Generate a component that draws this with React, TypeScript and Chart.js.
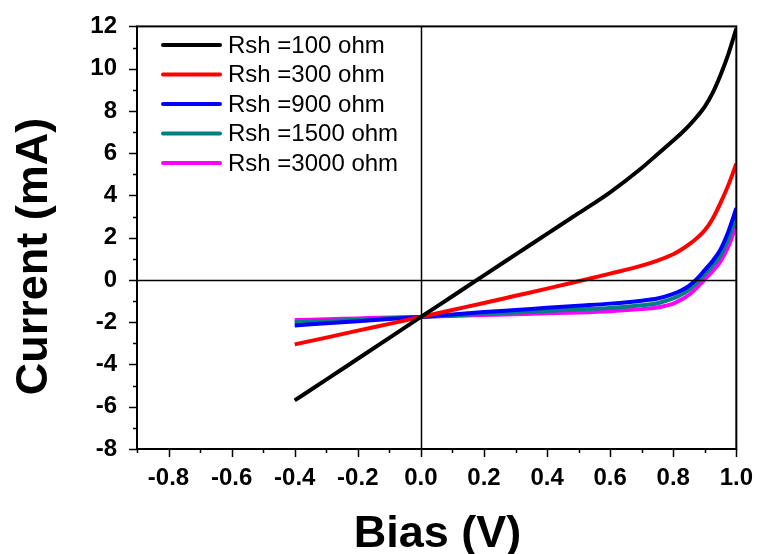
import React, { useEffect, useRef } from 'react';
import { Chart, registerables } from 'chart.js';

Chart.register(...registerables);

// ---- data ----
const bias = [-0.4, -0.3, -0.2, -0.1, 0, 0.1, 0.2, 0.3, 0.4, 0.5, 0.6, 0.7, 0.75, 0.8, 0.825, 0.85, 0.875, 0.9, 0.925, 0.95, 0.975, 1.0];
const rsh100 = [-5.7, -4.72, -3.73, -2.74, -1.75, -0.77, 0.22, 1.2, 2.18, 3.16, 4.15, 5.3, 5.95, 6.6, 6.93, 7.3, 7.72, 8.2, 8.85, 9.7, 10.7, 11.9];
const rsh300 = [-3.05, -2.73, -2.4, -2.08, -1.75, -1.42, -1.09, -0.75, -0.41, -0.06, 0.3, 0.68, 0.92, 1.22, 1.43, 1.68, 1.98, 2.35, 2.9, 3.65, 4.5, 5.5];
const rsh900 = [-2.15, -2.05, -1.95, -1.85, -1.75, -1.63, -1.52, -1.42, -1.32, -1.22, -1.12, -0.98, -0.88, -0.66, -0.5, -0.28, 0.05, 0.47, 0.9, 1.45, 2.3, 3.4];
const rsh1500 = [-2.0, -1.94, -1.88, -1.81, -1.75, -1.68, -1.6, -1.54, -1.47, -1.4, -1.33, -1.2, -1.1, -0.87, -0.7, -0.46, -0.13, 0.27, 0.68, 1.15, 1.95, 3.0];
const rsh3000 = [-1.9, -1.86, -1.82, -1.78, -1.75, -1.7, -1.66, -1.62, -1.58, -1.54, -1.48, -1.38, -1.3, -1.12, -0.94, -0.7, -0.36, 0.03, 0.42, 0.88, 1.6, 2.6];

const seriesLabels = ['Rsh =100 ohm', 'Rsh =300 ohm', 'Rsh =900 ohm', 'Rsh =1500 ohm', 'Rsh =3000 ohm'];
const seriesColors = ['#000000', '#ff0000', '#0000ff', '#008080', '#ff00ff'];
const seriesValues = [rsh100, rsh300, rsh900, rsh1500, rsh3000];

const xTitle = 'Bias (V)';
const yTitle = 'Current (mA)';
const FONT = 'Arial, "Liberation Sans", sans-serif';

const framePlugin = {
  id: 'frame',
  afterDatasetsDraw(chart: any) {
    const { ctx, chartArea } = chart;
    const { left, right, top, bottom } = chartArea;
    const xs = chart.scales.x;
    const ys = chart.scales.y;
    ctx.save();
    ctx.strokeStyle = '#000';
    ctx.lineWidth = 1.5;
    const x0 = Math.round(xs.getPixelForValue(0)) + 0.5;
    const y0 = Math.round(ys.getPixelForValue(0)) + 0.5;
    ctx.beginPath();
    ctx.moveTo(x0, top);
    ctx.lineTo(x0, bottom);
    ctx.moveTo(left, y0);
    ctx.lineTo(right, y0);
    ctx.stroke();
    ctx.restore();
  },
  afterDraw(chart: any) {
    const { ctx, chartArea } = chart;
    const { left, right, top, bottom } = chartArea;
    const xs = chart.scales.x;
    const ys = chart.scales.y;
    ctx.save();
    ctx.strokeStyle = '#000';
    ctx.lineWidth = 2;
    ctx.strokeRect(left, top, right - left, bottom - top);
    ctx.lineWidth = 1.5;
    ctx.beginPath();
    xs.ticks.forEach((t: any) => {
      const k = Math.round(t.value * 10);
      const len = k % 2 === 0 ? 8 : 4;
      const px = Math.round(xs.getPixelForValue(t.value)) + 0.5;
      ctx.moveTo(px, bottom);
      ctx.lineTo(px, bottom + len);
    });
    ys.ticks.forEach((t: any) => {
      const k = Math.round(t.value);
      const len = k % 2 === 0 ? 8 : 4;
      const py = Math.round(ys.getPixelForValue(t.value)) + 0.5;
      ctx.moveTo(left, py);
      ctx.lineTo(left - len, py);
    });
    ctx.stroke();

    ctx.fillStyle = '#000';
    ctx.font = `bold 45px ${FONT}`;
    ctx.textAlign = 'center';
    ctx.textBaseline = 'alphabetic';
    ctx.fillText(xTitle, 437.5, 547);
    ctx.save();
    ctx.translate(47, 256.5);
    ctx.rotate(-Math.PI / 2);
    ctx.fillText(yTitle, 0, 0);
    ctx.restore();

    ctx.font = `24px ${FONT}`;
    ctx.textAlign = 'left';
    ctx.textBaseline = 'middle';
    chart.data.datasets.forEach((ds: any, i: number) => {
      const cy = 45 + i * 29.5;
      ctx.strokeStyle = ds.borderColor;
      ctx.lineWidth = 4;
      ctx.lineCap = 'round';
      ctx.beginPath();
      ctx.moveTo(163, cy);
      ctx.lineTo(220, cy);
      ctx.stroke();
      ctx.fillStyle = '#000';
      ctx.fillText(ds.label, 228, cy + 1);
    });
    ctx.restore();
  },
};

export default function App() {
  const canvasRef = useRef<HTMLCanvasElement | null>(null);

  useEffect(() => {
    document.body.style.margin = '0';
    const canvas = canvasRef.current;
    if (!canvas) return;
    const chart = new Chart(canvas, {
      type: 'line',
      data: {
        datasets: seriesValues.map((vals, i) => ({
          label: seriesLabels[i],
          data: bias.map((b, j) => ({ x: b, y: vals[j] })),
          borderColor: seriesColors[i],
          backgroundColor: seriesColors[i],
          borderWidth: 4,
          pointRadius: 0,
          cubicInterpolationMode: 'monotone' as const,
          fill: false,
        })),
      },
      options: {
        animation: false,
        responsive: true,
        maintainAspectRatio: false,
        layout: { padding: { left: 0, right: 19, top: 19, bottom: 0 } },
        plugins: {
          legend: { display: false },
          tooltip: { enabled: false },
          title: { display: false },
        },
        scales: {
          x: {
            type: 'linear',
            min: -0.9,
            max: 1.0,
            afterFit: (s: any) => { s.height = 105; },
            border: { display: false },
            grid: { display: true, drawOnChartArea: false, drawTicks: true, tickLength: 8, color: 'rgba(0,0,0,0)' },
            ticks: {
              stepSize: 0.1,
              autoSkip: false,
              maxRotation: 0,
              padding: 7,
              color: '#000',
              font: { family: FONT, size: 24, weight: 'bold' },
              callback: (v: any) => {
                const k = Math.round(Number(v) * 10);
                return k % 2 === 0 ? (k / 10).toFixed(1) : '';
              },
            },
          },
          y: {
            type: 'linear',
            min: -8,
            max: 12,
            afterFit: (s: any) => { s.width = 137; },
            border: { display: false },
            grid: { display: true, drawOnChartArea: false, drawTicks: true, tickLength: 8, color: 'rgba(0,0,0,0)' },
            ticks: {
              stepSize: 1,
              autoSkip: false,
              padding: 12,
              color: '#000',
              font: { family: FONT, size: 24, weight: 'bold' },
              callback: (v: any) => {
                const k = Math.round(Number(v));
                return k % 2 === 0 ? String(k) : '';
              },
            },
          },
        },
      },
      plugins: [framePlugin],
    });
    return () => chart.destroy();
  }, []);

  return (
    <div style={{ position: 'relative', width: 760, height: 554 }}>
      <canvas ref={canvasRef} />
    </div>
  );
}
